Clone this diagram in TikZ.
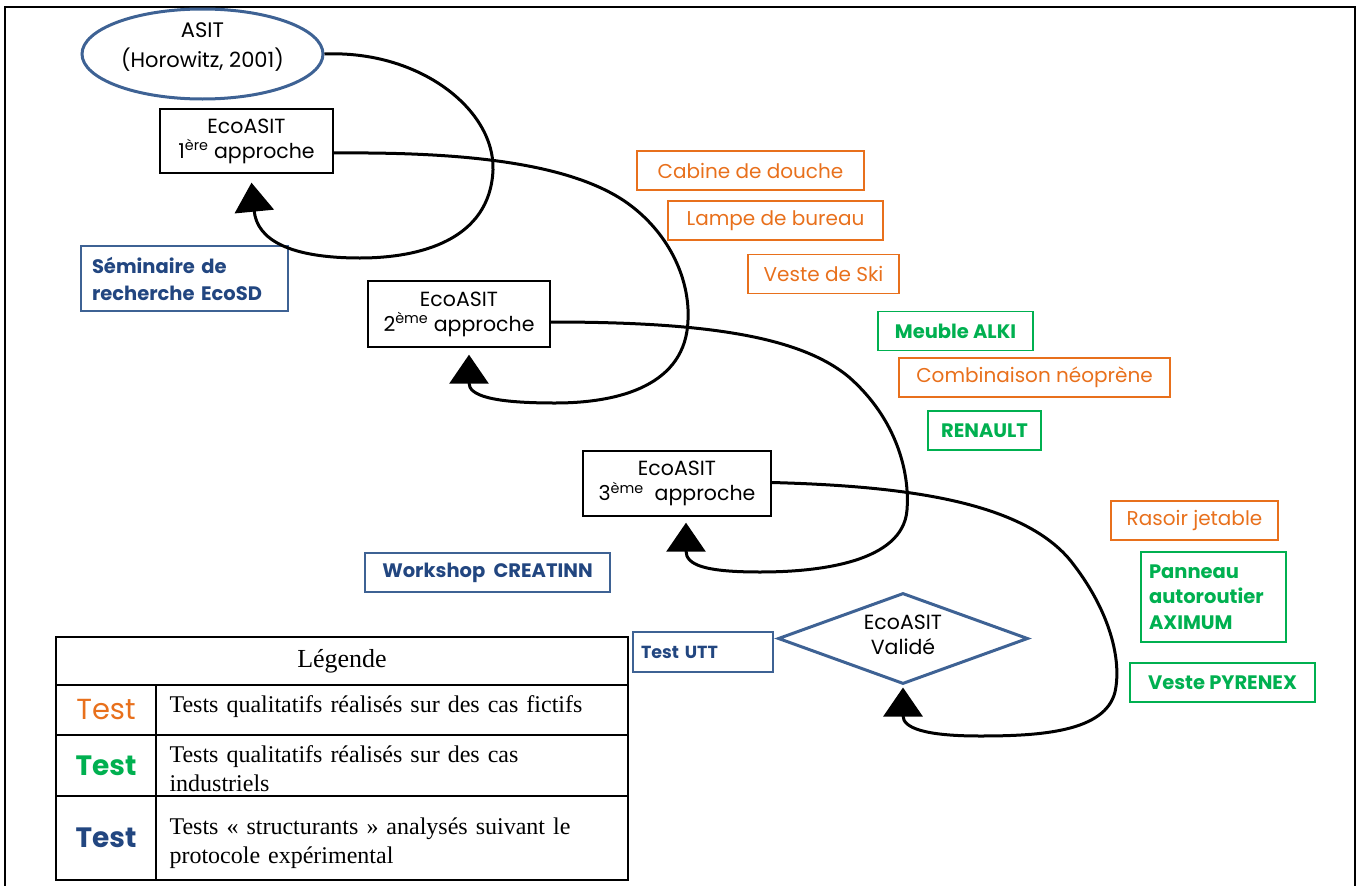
\documentclass[tikz,border=0pt]{standalone}
\usepackage{fontspec}
\setmainfont{Liberation Serif}
\newfontfamily\gothic{Poppins}
\usetikzlibrary{arrows.meta,shapes.geometric}
\definecolor{orng}{RGB}{232,112,28}
\definecolor{grn}{RGB}{0,176,80}
\definecolor{blu}{RGB}{34,70,128}
\definecolor{bluline}{RGB}{62,98,148}
\begin{document}
\begin{tikzpicture}[x=1pt,y=-1pt,
  gfont/.style={font=\gothic\fontsize{20.5}{25}\selectfont},
  blackbox/.style={draw=black, line width=1.4pt, inner sep=0pt, align=center, gfont},
  obox/.style={draw=orng, line width=1.4pt, inner sep=0pt, text=orng, font=\gothic\fontsize{20}{25}\selectfont, minimum height=39pt},
  gbox/.style={draw=grn, line width=1.4pt, inner sep=0pt, text=grn, font=\gothic\bfseries\fontsize{19.5}{25.5}\selectfont, minimum height=39pt},
  bbox/.style={draw=bluline, line width=1.4pt, inner sep=0pt, text=blu, font=\gothic\bfseries\fontsize{19.5}{27}\selectfont},
  conn/.style={line width=3pt, draw=black, -{Triangle[width=39pt,length=29pt]}},
  cell/.style={draw=black, line width=1.6pt, inner sep=0pt},
  celltxt/.style={font=\fontsize{24}{29}\selectfont, align=left, text width=455pt}
]
\useasboundingbox (0,0) rectangle (1360,886);
% frame
\draw[line width=2pt] (5,890) -- (5,7) -- (1355,7) -- (1355,890);

% ASIT ellipse
\node[ellipse, draw=bluline, line width=3pt, minimum width=241pt, minimum height=90pt, inner sep=0pt] (asit) at (202.5,54) {};
\node[font=\gothic\fontsize{21}{30}\selectfont, align=center] (asittxt) at (202.5,47) {ASIT\\(Horowitz, 2001)};

% EcoASIT boxes
\node[blackbox, minimum width=173pt, minimum height=64pt] (b1) at (246.5,141) {EcoASIT\\1\textsuperscript{ère} approche};
\node[blackbox, minimum width=182pt, minimum height=66pt] (b2) at (459,314) {EcoASIT\\2\textsuperscript{ème} approche};
\node[blackbox, minimum width=188pt, minimum height=65pt] (b3) at (677,483.5) {EcoASIT\\3\textsuperscript{ème}\ \ approche};

% diamond
\node[diamond, draw=bluline, line width=3pt, minimum width=250pt, minimum height=91pt, inner sep=0pt, shape aspect=2.75] (val) at (903,638.5) {};
\node[gfont, align=center] (valtxt) at (903,634.5) {EcoASIT\\Validé};

% blue boxes
\node[bbox, minimum width=207pt, minimum height=65pt, text width=185pt, align=left] (sem) at (184.5,278.5) {Séminaire de\\recherche EcoSD};
\node[bbox, minimum width=245pt, minimum height=39pt] (work) at (487.5,572.5) {Workshop\ \ CREATINN};
\node[bbox, minimum width=140pt, minimum height=40pt, text width=124pt, align=left, font=\gothic\bfseries\fontsize{17.5}{22}\selectfont] (utt) at (703,652) {Test UTT};

% orange / green boxes
\node[obox, minimum width=227pt] (cab) at (750.5,170.5) {Cabine de douche};
\node[obox, minimum width=215pt] (lamp) at (775.5,220.5) {Lampe de bureau};
\node[obox, minimum width=151pt] (ski) at (823.5,274) {Veste de Ski};
\node[gbox, minimum width=155pt] (alki) at (955.5,331) {Meuble ALKI};
\node[obox, minimum width=271pt] (comb) at (1034.5,377.5) {Combinaison néoprène};
\node[gbox, minimum width=113pt] (ren) at (984.5,430.5) {RENAULT};
\node[obox, minimum width=167pt] (raso) at (1194.5,520.5) {Rasoir jetable};
\node[gbox, minimum width=145pt, minimum height=90pt, text width=129pt, align=left] (pann) at (1213.5,597) {Panneau\\autoroutier\\AXIMUM};
\node[gbox, minimum width=185pt] (pyr) at (1222.5,682.5) {Veste PYRENEX};

% connectors
\draw[conn] (asit.east) .. controls (420,50) and (495,110) .. (493,170)
  .. controls (490,240) and (420,258) .. (360,258)
  .. controls (290,258) and (257,240) .. ([xshift=5pt,yshift=-9pt]b1.south);
\draw[conn] ([yshift=-12pt]b1.east) .. controls (450,152) and (570,160) .. (630,205)
  .. controls (670,235) and (690,280) .. (688,320)
  .. controls (686,385) and (620,403) .. (555,403)
  .. controls (490,403) and (469,395) .. ([xshift=10pt,yshift=-7pt]b2.south);
\draw[conn] ([yshift=-8pt]b2.east) .. controls (700,322) and (800,335) .. (850,378)
  .. controls (895,418) and (910,470) .. (907,510)
  .. controls (903,562) and (820,572) .. (760,572)
  .. controls (705,572) and (686,565) .. ([xshift=9pt,yshift=-6pt]b3.south);
\draw[conn] ([yshift=1pt]b3.east) .. controls (900,486) and (1020,500) .. (1070,560)
  .. controls (1110,610) and (1122,660) .. (1115,692)
  .. controls (1105,732) and (1040,736) .. (980,736)
  .. controls (925,736) and (903,728) .. ([yshift=-2pt]val.south);

% legend table
\node[cell, minimum width=572pt, minimum height=48pt, font=\fontsize{26}{30}\selectfont] (lghead) at (342,661) {Légende};
\node[cell, minimum width=100pt, minimum height=50pt, text=orng, font=\gothic\fontsize{29}{32}\selectfont] (l1a) at (106,710) {Test};
\node[cell, minimum width=472pt, minimum height=50pt] (l1b) at (392,710) {};
\node[celltxt, anchor=west] (l1t) at (166,707) {Tests qualitatifs réalisés sur des cas fictifs};
\node[cell, minimum width=100pt, minimum height=61pt, text=grn, font=\gothic\bfseries\fontsize{28}{32}\selectfont] (l2a) at (106,765.5) {Test};
\node[cell, minimum width=472pt, minimum height=61pt] (l2b) at (392,765.5) {};
\node[celltxt, anchor=west] (l2t) at (166,769) {Tests qualitatifs réalisés sur des cas\\industriels};
\node[cell, minimum width=100pt, minimum height=84pt, text=blu, font=\gothic\bfseries\fontsize{28}{32}\selectfont] (l3a) at (106,838) {Test};
\node[cell, minimum width=472pt, minimum height=84pt] (l3b) at (392,838) {};
\node[celltxt, anchor=west] (l3t) at (166,843) {Tests « structurants » analysés suivant le\\protocole expérimental};
\end{tikzpicture}
\end{document}
